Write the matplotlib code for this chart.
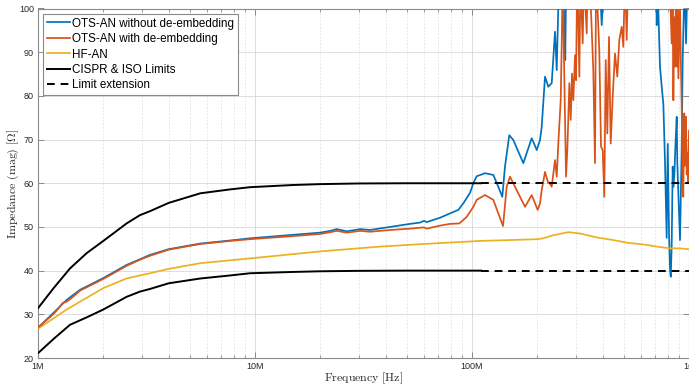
import numpy as np
import matplotlib
matplotlib.use("Agg")
import matplotlib.pyplot as plt
from matplotlib.ticker import FixedLocator, NullFormatter, LogLocator

# ---------------- data (frequency in MHz, impedance in Ohm) ----------------
lim_f = [1, 1.176, 1.404, 1.676, 2.0, 2.56, 2.95, 3.28, 4.0, 5.6, 7.7, 9.5, 15, 20,
         30, 50, 110]
lim_upper = [31.4, 35.9, 40.5, 44.0, 46.8, 50.8, 52.7, 53.6, 55.5, 57.7, 58.6, 59.1,
             59.6, 59.8, 59.95, 60, 60]
lim_lower = [21.1, 24.3, 27.6, 29.3, 31.1, 34.0, 35.2, 35.8, 37.1, 38.2, 38.9, 39.4,
             39.7, 39.85, 39.95, 40, 40]
ext_f = [110, 1000]
ext_upper = [60, 60]
ext_lower = [40, 40]

blue_f = [1, 1.176, 1.356, 1.56, 2.0, 2.56, 2.95, 3.28, 4.0, 5.6, 7.7, 9.5, 15, 20,
          22.2, 23.8, 26.5, 30.5, 33.9, 41.9, 51.8, 57.6, 60.1, 61.8, 71.2, 79.2,
          86.5, 91.2, 97.9, 101.4, 105.1, 114.8, 125.4, 132.2, 137.9, 141.9, 148.5,
          155.0, 172.4, 188.4, 193.1, 198.7, 205.8, 209.5, 217.0, 224.7, 233.0,
          241.3, 245.7, 249.9, 256, 262, 267, 269, 272, 300, 350, 390, 396, 402,
          450, 550, 650, 704, 710, 716, 722, 735, 749, 762, 775, 789, 798, 809, 818,
          824, 832, 841, 847, 856, 868, 878, 883, 893, 909, 925, 935, 945, 952, 969,
          982, 1000]
blue_v = [26.9, 30.3, 33.3, 35.6, 38.3, 41.3, 42.6, 43.6, 44.9, 46.2, 46.9, 47.4,
          48.2, 48.7, 49.1, 49.5, 49.0, 49.5, 49.3, 50.0, 50.7, 51.0, 51.4, 51.1,
          52.1, 53.1, 53.9, 55.4, 57.8, 60.0, 61.6, 62.3, 61.9, 59.2, 56.9, 63.8,
          71.0, 69.9, 64.6, 70.3, 69.1, 67.6, 69.9, 72.9, 84.4, 82.1, 82.9, 94.7,
          85.9, 100.5, 110, 108, 95, 88.2, 110, 120, 115, 104, 96.2, 103, 118, 125,
          120, 110, 96.2, 105, 100, 86.7, 82.0, 78.0, 65.0, 47.5, 69.0, 48.5, 40.0,
          38.6, 45.5, 63.8, 59.2, 62.0, 70.0, 75.2, 65.0, 57.7, 47.0, 67.6, 88.0,
          98.0, 110, 92.0, 105, 100]

red_f = [1, 1.176, 1.25, 1.3, 1.356, 1.45, 1.56, 2.0, 2.56, 2.95, 3.28, 4.0, 5.6,
         7.7, 9.5, 15, 20, 22.2, 23.8, 26.5, 30.5, 33.9, 41.9, 51.8, 60.1, 61.8,
         71.2, 79.2, 87.4, 94.5, 101.4, 105.1, 114.8, 125.4, 132.2, 139.0, 144.5,
         149.7, 157.8, 175.5, 188.4, 200.8, 205.8, 209.5, 217.0, 224.7, 227.0,
         233.0, 241.3, 245.7, 249.9, 256.3, 259.1, 262, 265.5, 271.2, 275.0, 280.9,
         285.0, 289.0, 293.0, 298.4, 301.6, 305.7, 312.3, 316, 323.7, 328, 337.8,
         342, 350, 362.2, 368.8, 373, 386.0, 393.1, 400.2, 407.1, 413.2, 420.3,
         427.9, 435.7, 445.0, 456.0, 467.3, 477.3, 489.7, 498.1, 507, 516.4, 525,
         560, 620, 700, 780, 818, 832, 841, 847, 856, 863, 870, 878, 886, 893, 909,
         917, 925, 935, 941, 951, 958, 969, 976, 982, 990, 1000]
red_v = [27.0, 30.0, 31.5, 32.6, 32.9, 34.0, 35.4, 38.1, 41.1, 42.5, 43.4, 44.8,
         46.1, 46.8, 47.2, 47.9, 48.4, 48.8, 49.1, 48.7, 49.1, 48.9, 49.3, 49.6,
         49.9, 49.6, 50.3, 50.7, 50.8, 52.3, 54.6, 56.2, 57.3, 56.2, 53.1, 50.2,
         59.2, 61.5, 59.2, 54.6, 57.3, 53.9, 55.4, 58.4, 62.6, 60.0, 60.2, 59.2,
         65.3, 61.5, 69.1, 79.0, 92.0, 108, 88.2, 61.5, 67.6, 82.9, 74.5, 85.1,
         79.0, 89.3, 83.6, 110, 84.4, 106, 92.0, 108, 94.3, 112, 105, 85.9, 64.6,
         108, 90.5, 68.4, 67.6, 56.9, 88.2, 71.4, 93.5, 69.1, 79.8, 89.7, 84.4,
         92.8, 95.8, 91.2, 108, 92.8, 110, 115, 120, 118, 112, 104, 92.0, 101, 79.0,
         98.0, 86.7, 102, 86.7, 100, 84.0, 101, 88.0, 78.0, 62.0, 56.9, 76.0, 64.0,
         75.2, 62.0, 67.0, 60.0, 72.0]

yel_f = [1, 1.356, 2.0, 2.56, 2.95, 3.28, 4.0, 5.6, 9.5, 20, 37.7, 60, 108.7, 150,
         200, 213.1, 237.0, 277.9, 314.6, 375.6, 448.0, 516.4, 638.6, 710, 817.5,
         908.9, 1000]
yel_v = [26.7, 31.1, 36.0, 38.2, 38.9, 39.4, 40.4, 41.7, 42.8, 44.4, 45.5, 46.1,
         46.8, 47.0, 47.2, 47.4, 48.1, 48.8, 48.5, 47.6, 47.0, 46.4, 45.9, 45.5,
         45.1, 45.1, 44.9]

x_ticks = [1e6, 1e7, 1e8, 1e9]
x_ticklabels = ["1M", "10M", "100M", "1G"]
y_ticks = [20, 30, 40, 50, 60, 70, 80, 90, 100]

# ---------------- colours ----------------
C_BLUE = "#0072BD"
C_RED = "#D95319"
C_YEL = "#EDB120"

plt.rcParams["mathtext.fontset"] = "cm"
plt.rcParams["font.family"] = ["Liberation Sans", "DejaVu Sans"]

W, H = 689, 389
fig = plt.figure(figsize=(W / 100, H / 100), dpi=100)
ax = fig.add_axes([38 / W, 31 / H, 651 / W, 349.5 / H])

MHz = 1e6
lw = 1.25
ax.plot(np.array(blue_f) * MHz, blue_v, color=C_BLUE, lw=lw,
        label="OTS-AN without de-embedding", zorder=3)
ax.plot(np.array(red_f) * MHz, red_v, color=C_RED, lw=lw,
        label="OTS-AN with de-embedding", zorder=4)
ax.plot(np.array(yel_f) * MHz, yel_v, color=C_YEL, lw=lw, label="HF-AN", zorder=3)
ax.plot(np.array(lim_f) * MHz, lim_upper, color="black", lw=1.4,
        label="CISPR & ISO Limits", zorder=5)
ax.plot(np.array(lim_f) * MHz, lim_lower, color="black", lw=1.4, zorder=5)
ax.plot(np.array(ext_f) * MHz, ext_upper, color="black", lw=1.4, ls=(0, (4, 3)),
        label="Limit extension", zorder=5)
ax.plot(np.array(ext_f) * MHz, ext_lower, color="black", lw=1.4, ls=(0, (4, 3)),
        zorder=5)

ax.set_xscale("log")
ax.set_xlim(1e6, 1e9)
ax.set_ylim(20, 100)
ax.xaxis.set_major_locator(FixedLocator(x_ticks))
ax.set_xticklabels(x_ticklabels)
ax.xaxis.set_minor_locator(LogLocator(base=10, subs=np.arange(2, 10)))
ax.xaxis.set_minor_formatter(NullFormatter())
ax.set_yticks(y_ticks)

spine_c = "#8a8a8a"
for s in ax.spines.values():
    s.set_color(spine_c)
    s.set_linewidth(0.8)
ax.tick_params(which="both", direction="in", top=True, right=True,
               colors=spine_c, labelcolor="#262626", labelsize=6.5, pad=3)
ax.tick_params(which="major", length=4, width=0.7)
ax.tick_params(which="minor", length=2.5, width=0.6)

ax.grid(which="major", color="#d8d8d8", lw=0.6, ls="-", zorder=0)
ax.grid(which="minor", axis="x", color="#e2e2e2", lw=0.6, ls=(0, (2, 2)), zorder=0)
ax.set_axisbelow(True)

fig.text(363.5 / W, 1 - 378 / H, r"$\mathrm{Frequency\ [Hz]}$", fontsize=8.6,
         color="#262626", ha="center", va="center")
fig.text(13 / W, 1 - 184 / H, r"$\mathrm{Impedance\ (mag)\ [\Omega]}$", fontsize=8.6,
         color="#262626", ha="center", va="center", rotation=90)

leg = ax.legend(loc="upper left", bbox_to_anchor=(5 / 651, 1 - 5.5 / 349.5),
                borderaxespad=0, fontsize=8.4, frameon=True, fancybox=False,
                edgecolor="#8a8a8a", framealpha=1, handlelength=2.0,
                handletextpad=0.2, labelspacing=0.3, borderpad=0.3)
leg.get_frame().set_linewidth(0.8)

fig.savefig("out.png", dpi=100)
